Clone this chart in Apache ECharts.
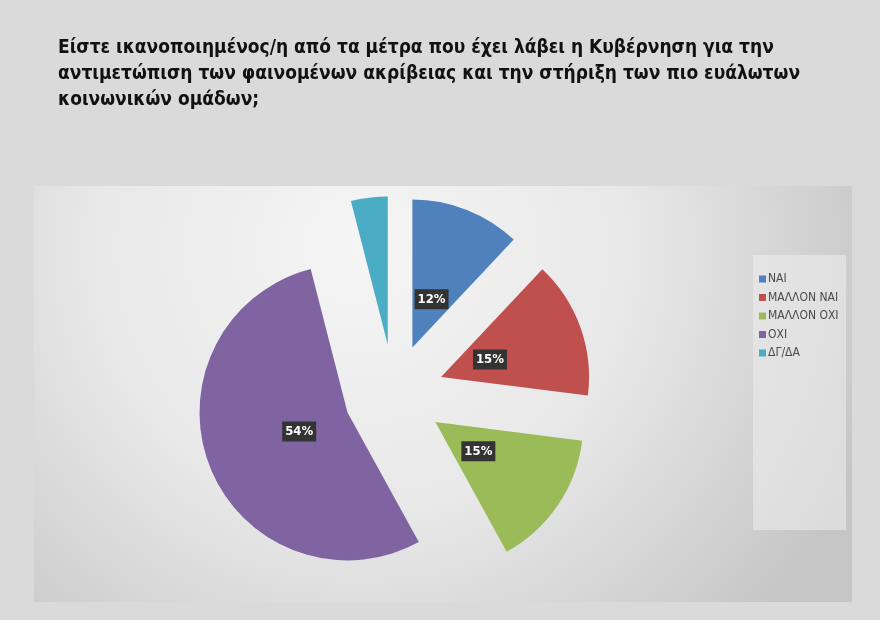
<!DOCTYPE html>
<html><head><meta charset="utf-8">
<script src="https://cdn.jsdelivr.net/npm/echarts@6/dist/echarts.min.js"></script>
<style>html,body{margin:0;padding:0;background:#dadada;}#c{width:880px;height:620px;}</style>
</head><body><div id="c"></div>
<script>
const titleLines = [
  'Είστε ικανοποιημένος/η από τα μέτρα που έχει λάβει η Κυβέρνηση για την',
  'αντιμετώπιση των φαινομένων ακρίβειας και την στήριξη των πιο ευάλωτων',
  'κοινωνικών ομάδων;'
];
const categories = ['ΝΑΙ', 'ΜΑΛΛΟΝ ΝΑΙ', 'ΜΑΛΛΟΝ ΟΧΙ', 'ΟΧΙ', 'ΔΓ/ΔΑ'];
const values = [12, 15, 15, 54, 4];
const colors = ['#4f81bd', '#c0504d', '#9bbb59', '#8064a2', '#4bacc6'];

const chart = echarts.init(document.getElementById('c'), null, {renderer: 'canvas'});
const pieData = categories.map((n, i) => ({name: n, value: values[i], selected: true, itemStyle: {color: colors[i]}}));
const labelData = categories.map((n, i) => ({name: n, value: values[i], selected: true}));
const font = '"DejaVu Sans Condensed", "Liberation Sans Narrow", sans-serif';
chart.setOption({
  animation: false,
  backgroundColor: '#dadada',
  color: colors,
  title: {
    text: titleLines.join('\n'),
    left: 53, top: 30,
    textStyle: {fontFamily: font, fontWeight: 'bold', fontSize: 19, lineHeight: 26, color: '#111'}
  },
  graphic: [
    {type: 'rect', z: -10, shape: {x: 34, y: 186, width: 818, height: 416},
     style: {fill: new echarts.graphic.RadialGradient(0.4, 0.15, 1.3, [
       {offset: 0, color: '#f5f5f5'}, {offset: 0.5, color: '#e8e8e8'}, {offset: 1, color: '#c6c6c6'}])}},
    {type: 'rect', z: -9, shape: {x: 753, y: 255, width: 93, height: 275},
     style: {fill: 'rgba(238,238,238,0.55)'}}
  ],
  legend: {
    orient: 'vertical', left: 754, top: 268,
    itemWidth: 7, itemHeight: 7, itemGap: 6.5, icon: 'rect',
    textStyle: {fontFamily: font, fontSize: 12, color: '#4a4a4a', padding: [0, 0, 0, -3]},
    data: categories
  },
  series: [
    {
      type: 'pie', center: [394, 394], radius: [0, 148],
      startAngle: 90, clockwise: true,
      selectedMode: 'multiple', selectedOffset: 50,
      label: {show: false}, labelLine: {show: false},
      emphasis: {disabled: true},
      data: pieData
    },
    {
      type: 'pie', center: [394, 394], radius: [0, 98],
      startAngle: 90, clockwise: true,
      selectedMode: 'multiple', selectedOffset: 50,
      itemStyle: {color: 'transparent'},
      legendHoverLink: false, silent: true,
      label: {show: true, position: 'inside', formatter: '{d}%',
        fontFamily: font, fontWeight: 'bold', fontSize: 13, color: '#fff',
        backgroundColor: '#333', padding: [4, 3, 3, 3]},
      labelLine: {show: false},
      emphasis: {disabled: true},
      data: labelData
    }
  ]
});
</script></body></html>
